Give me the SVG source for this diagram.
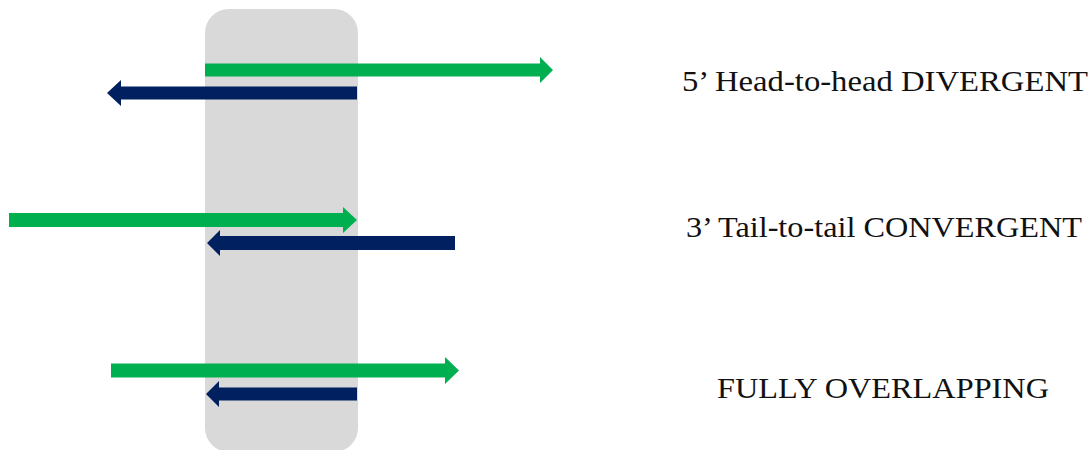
<svg xmlns="http://www.w3.org/2000/svg" width="1092" height="450" viewBox="0 0 1092 450">
  <style>
    .band { fill: #D9D9D9; }
    .sense { fill: #00B050; }
    .anti { fill: #002060; }
    .label { font-family: "Liberation Serif", "Times New Roman", serif; font-size: 29px; fill: #111111; }
  </style>
  <rect width="1092" height="450" fill="#FFFFFF"/>

  <!-- shared overlap region -->
  <g id="overlap-band">
    <rect class="band" x="205" y="9" width="153" height="443" rx="24" ry="24"/>
  </g>

  <g id="connectors">
    <!-- divergent pair -->
    <polygon class="sense" points="205,63.5 540,63.5 540,57 553,70 540,83 540,76.5 205,76.5"/>
    <polygon class="anti" points="357,86.5 121,86.5 121,80 107,93 121,106 121,99.5 357,99.5"/>
    <!-- convergent pair -->
    <polygon class="sense" points="9,213 343,213 343,207 357,220 343,233 343,227 9,227"/>
    <polygon class="anti" points="455,236 220,236 220,230 207,243 220,256 220,250 455,250"/>
    <!-- fully overlapping pair -->
    <polygon class="sense" points="111,363.5 445,363.5 445,357 459,370.5 445,384 445,377.5 111,377.5"/>
    <polygon class="anti" points="357,387.5 219,387.5 219,381 206,394 219,407 219,400.5 357,400.5"/>
  </g>

  <g id="label-divergent">
    <text class="label" x="682" y="91" textLength="406" lengthAdjust="spacingAndGlyphs">5’ Head-to-head DIVERGENT</text>
  </g>
  <g id="label-convergent">
    <text class="label" x="686" y="237" textLength="396" lengthAdjust="spacingAndGlyphs">3’ Tail-to-tail CONVERGENT</text>
  </g>
  <g id="label-overlapping">
    <text class="label" x="717" y="398" textLength="332" lengthAdjust="spacingAndGlyphs">FULLY OVERLAPPING</text>
  </g>
</svg>
